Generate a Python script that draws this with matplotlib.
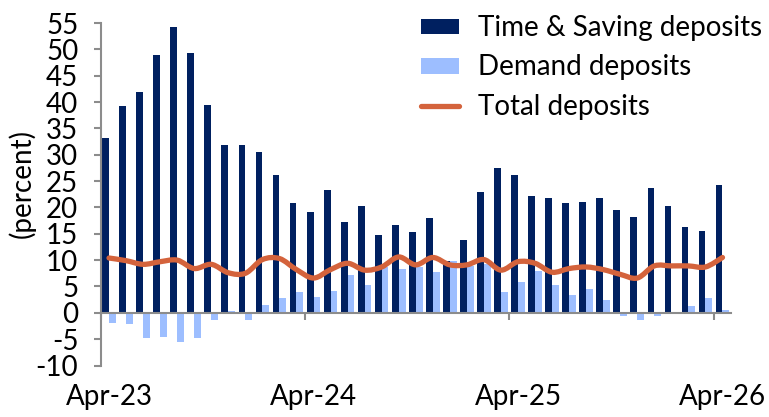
import matplotlib
matplotlib.use("Agg")
import matplotlib.pyplot as plt
import numpy as np
from matplotlib.lines import Line2D
from matplotlib.patches import Patch, PathPatch
from matplotlib.path import Path

plt.rcParams["font.family"] = ["Lato", "DejaVu Sans"]
plt.rcParams["axes.unicode_minus"] = False

# Monthly, Apr-23 .. Apr-26 (year-on-year growth, percent)
months = [
    "Apr-23", "May-23", "Jun-23", "Jul-23", "Aug-23", "Sep-23", "Oct-23",
    "Nov-23", "Dec-23", "Jan-24", "Feb-24", "Mar-24", "Apr-24", "May-24",
    "Jun-24", "Jul-24", "Aug-24", "Sep-24", "Oct-24", "Nov-24", "Dec-24",
    "Jan-25", "Feb-25", "Mar-25", "Apr-25", "May-25", "Jun-25", "Jul-25",
    "Aug-25", "Sep-25", "Oct-25", "Nov-25", "Dec-25", "Jan-26", "Feb-26",
    "Mar-26", "Apr-26",
]
time_saving = [
    33.1, 39.3, 41.9, 49.0, 54.2, 49.3, 39.4, 31.9, 31.9, 30.6, 26.2, 20.8,
    19.1, 23.4, 17.3, 20.2, 14.8, 16.6, 15.3, 18.0, 9.8, 13.9, 23.0, 27.5,
    26.1, 22.1, 21.7, 20.8, 21.0, 21.7, 19.5, 18.2, 23.6, 20.3, 16.2, 15.6,
    24.2,
]
demand = [
    -2.0, -2.1, -4.7, -4.6, -5.5, -4.8, -1.4, 0.3, -1.3, 1.4, 2.8, 3.9,
    3.0, 4.2, 7.2, 5.3, 8.7, 8.4, 8.6, 7.7, 9.8, 8.9, 9.2, 3.9,
    5.8, 8.0, 5.2, 3.4, 4.5, 2.4, -0.7, -1.3, -0.6, 0.0, 1.2, 2.9,
    0.5,
]
total = [
    10.4, 9.9, 9.2, 9.7, 10.0, 8.4, 9.2, 7.6, 7.5, 10.1, 10.3, 8.2,
    6.6, 8.2, 9.4, 8.1, 8.7, 10.6, 9.1, 10.5, 9.1, 9.1, 10.1, 8.1,
    9.7, 9.4, 7.7, 8.4, 8.7, 8.2, 7.3, 6.6, 8.9, 8.9, 8.9, 8.7,
    10.5,
]
label_months = ["Apr-23", "Apr-24", "Apr-25", "Apr-26"]

NAVY = "#002060"
LIGHT = "#9DBEFF"
ORANGE = "#D4633C"
GREY = "#8C8C8C"
FS = 20


def smooth_path(x, y):
    """Catmull-Rom style cubic Bezier through the points (Excel smoothed line)."""
    pts = np.column_stack([x, y]).astype(float)
    n = len(pts)
    verts = [pts[0]]
    codes = [Path.MOVETO]
    for i in range(n - 1):
        p0 = pts[i - 1] if i > 0 else pts[i]
        p1, p2 = pts[i], pts[i + 1]
        p3 = pts[i + 2] if i + 2 < n else pts[i + 1]
        verts += [p1 + (p2 - p0) / 6.0, p2 - (p3 - p1) / 6.0, p2]
        codes += [Path.CURVE4] * 3
    return Path(verts, codes)


fig = plt.figure(figsize=(7.69, 4.17), dpi=100)
ax = fig.add_axes([0.1307, 0.1235, 0.8199, 0.8213])

x = np.arange(len(months))
w = 0.40
ax.bar(x - w / 2, time_saving, width=w, color=NAVY, zorder=2)
ax.bar(x + w / 2, demand, width=w, color=LIGHT, zorder=2)
ax.add_patch(PathPatch(smooth_path(x, total), facecolor="none",
                       edgecolor=ORANGE, lw=3.8, capstyle="round",
                       joinstyle="round", zorder=3))

ax.set_xlim(-0.5, len(months) - 0.5)
ax.set_ylim(-10, 55)
ax.set_yticks(np.arange(-10, 56, 5))

# axis line at zero, tick marks on year boundaries,
# labels low under the plot at the category centres
ax.spines["bottom"].set_position(("data", 0))
for s in ("top", "right"):
    ax.spines[s].set_visible(False)
for s in ("left", "bottom"):
    ax.spines[s].set_color(GREY)
    ax.spines[s].set_linewidth(1.5)

lab_idx = [months.index(m) for m in label_months]
ax.set_xticks([i - 0.5 for i in lab_idx])
ax.set_xticklabels([])
ax.set_xticks(lab_idx, minor=True)
ax.set_xticklabels(label_months, minor=True)
ax.tick_params(axis="x", which="major", length=5, width=1.5, color=GREY,
               direction="out")
ax.tick_params(axis="x", which="minor", length=0, pad=51, labelsize=FS)
ax.tick_params(axis="y", length=5, width=1.5, color=GREY, pad=11,
               labelsize=FS)

ax.set_ylabel("(percent)", fontsize=FS)
ax.yaxis.set_label_coords(-0.103, 0.53)

handles = [
    Patch(facecolor=NAVY, edgecolor="none"),
    Patch(facecolor=LIGHT, edgecolor="none"),
    Line2D([0], [0], color=ORANGE, lw=3.8, solid_capstyle="round"),
]
fig.legend(handles, ["Time & Saving deposits", "Demand deposits",
                     "Total deposits"],
           loc="upper left", bbox_to_anchor=(0.548, 0.963), frameon=False,
           fontsize=FS, borderpad=0, borderaxespad=0, handlelength=1.37,
           handleheight=0.5, handletextpad=0.65, labelspacing=0.47)

fig.savefig("out.png", dpi=100)
